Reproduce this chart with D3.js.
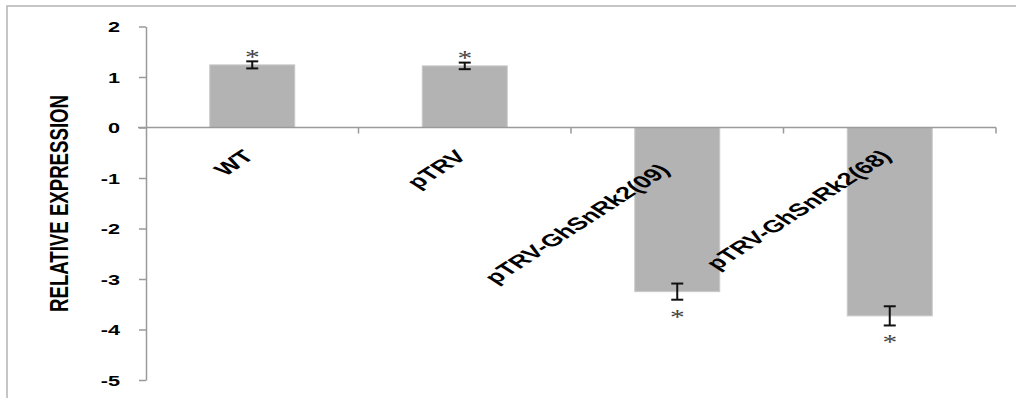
<!DOCTYPE html>
<html>
<head>
<meta charset="utf-8">
<script src="https://cdn.jsdelivr.net/npm/d3@7"></script>
<style>
  html, body { margin: 0; padding: 0; background: #fff; }
  svg { display: block; }
  text { font-family: "Liberation Sans", Arial, sans-serif; }
</style>
</head>
<body>
<div id="chart"></div>
<script>
// values
var categories = ["WT", "pTRV", "pTRV-GhSnRk2(09)", "pTRV-GhSnRk2(68)"];
var expression = [1.24, 1.22, -3.25, -3.73];
var errors = [0.07, 0.065, 0.16, 0.19];
var yTicks = [2, 1, 0, -1, -2, -3, -4, -5];
var yTitle = "RELATIVE EXPRESSION";

var width = 1016,
    height = 398,
    stretch = 1.55; // the source picture is wider than it is tall

var svg = d3.select("#chart").append("svg")
    .attr("width", width)
    .attr("height", height);

// outer frame (only top and left edges are in view)
svg.append("path")
    .attr("d", "M7,398V6H1016")
    .attr("fill", "none")
    .attr("stroke", "#b4b4b4")
    .attr("stroke-width", 1.5);

var x = d3.scaleBand()
    .domain(categories)
    .range([146, 996])
    .paddingInner(0.6)
    .paddingOuter(0.3);

var y = d3.scaleLinear()
    .domain([d3.min(yTicks), d3.max(yTicks)])
    .range([380, 26.5]);

var data = categories.map(function(c, i){
    return { name: c, value: expression[i], err: errors[i] };
});

// bars
svg.selectAll(".bar")
    .data(data)
    .enter().append("rect")
    .attr("class", "bar")
    .attr("x", function(d){ return x(d.name) })
    .attr("y", function(d){ return y(Math.max(0, d.value)) })
    .attr("width", x.bandwidth())
    .attr("height", function(d){ return Math.abs(y(d.value) - y(0)) })
    .attr("fill", "#b3b3b3")
    .attr("stroke", "#c9c9c9")
    .attr("stroke-width", 1);

// y axis
var yAxis = svg.append("g")
    .attr("transform", "translate(" + x.range()[0] + ",0)")
    .call(d3.axisLeft(y).tickValues(yTicks).tickSize(7).tickSizeOuter(0)
        .tickFormat(function(d){ return String(d) }));
yAxis.select(".domain").attr("stroke", "#9a9a9a").attr("stroke-width", 1.5);
yAxis.selectAll(".tick line").attr("stroke", "#9a9a9a").attr("stroke-width", 1.5);
yAxis.selectAll(".tick text")
    .attr("x", 0)
    .attr("dy", "0.36em")
    .attr("transform", "translate(-26,0) scale(" + stretch + ",1)")
    .attr("fill", "#000")
    .style("font-size", "14px")
    .style("font-weight", "bold")
    .style("font-family", "'Liberation Sans', Arial, sans-serif");

// x axis along zero, ticks between categories
var step = x.step(),
    x0 = x(categories[0]) - x.paddingOuter() * step;
svg.append("line")
    .attr("x1", x.range()[0] - 8).attr("x2", x.range()[1])
    .attr("y1", y(0)).attr("y2", y(0))
    .attr("stroke", "#9a9a9a").attr("stroke-width", 1.5);
svg.selectAll(".xtick")
    .data(categories)
    .enter().append("line")
    .attr("class", "xtick")
    .attr("x1", function(d, i){ return x0 + (i + 1) * step })
    .attr("x2", function(d, i){ return x0 + (i + 1) * step })
    .attr("y1", y(0)).attr("y2", y(0) + 6)
    .attr("stroke", "#9a9a9a").attr("stroke-width", 1.5);

// category labels, rotated
var nudge = { "pTRV-GhSnRk2(09)": [-9, 14] };
svg.selectAll(".xlabel")
    .data(categories)
    .enter().append("text")
    .attr("class", "xlabel")
    .attr("transform", function(d){
        var n = nudge[d] || [0, 0];
        var ax = x(d) + x.bandwidth() / 2 + 3 + n[0],
            ay = y(0) + 30 + n[1];
        return "translate(" + ax + "," + ay + ") scale(" + stretch + ",1) rotate(-45)";
    })
    .attr("text-anchor", "end")
    .style("font-size", "17.5px")
    .style("font-weight", "bold")
    .attr("fill", "#000")
    .text(function(d){ return d });

// error bars
var cap = 6;
var eb = svg.selectAll(".err")
    .data(data)
    .enter().append("g")
    .attr("class", "err")
    .attr("stroke", "#111")
    .attr("stroke-width", 2);
eb.append("line")
    .attr("x1", function(d){ return x(d.name) + x.bandwidth() / 2 })
    .attr("x2", function(d){ return x(d.name) + x.bandwidth() / 2 })
    .attr("y1", function(d){ return y(d.value + d.err) })
    .attr("y2", function(d){ return y(d.value - d.err) });
eb.append("line")
    .attr("x1", function(d){ return x(d.name) + x.bandwidth() / 2 - cap })
    .attr("x2", function(d){ return x(d.name) + x.bandwidth() / 2 + cap })
    .attr("y1", function(d){ return y(d.value + d.err) })
    .attr("y2", function(d){ return y(d.value + d.err) });
eb.append("line")
    .attr("x1", function(d){ return x(d.name) + x.bandwidth() / 2 - cap })
    .attr("x2", function(d){ return x(d.name) + x.bandwidth() / 2 + cap })
    .attr("y1", function(d){ return y(d.value - d.err) })
    .attr("y2", function(d){ return y(d.value - d.err) });

// significance stars
svg.selectAll(".star")
    .data(data)
    .enter().append("text")
    .attr("class", "star")
    .attr("transform", function(d){
        var cy = d.value > 0 ? y(d.value + d.err) - 6.5 : y(d.value - d.err) + 15;
        return "translate(" + (x(d.name) + x.bandwidth() / 2) + "," + (cy + 9) + ") scale(1.4,1)";
    })
    .attr("text-anchor", "middle")
    .style("font-family", "'Liberation Serif', 'Times New Roman', serif")
    .style("font-size", "21px")
    .attr("fill", "#444")
    .text("*");

// y title
svg.append("text")
    .attr("transform", "translate(59.5,203.5) scale(" + stretch + ",1) rotate(-90)")
    .attr("text-anchor", "middle")
    .attr("dominant-baseline", "central")
    .attr("textLength", 217)
    .attr("lengthAdjust", "spacingAndGlyphs")
    .style("font-size", "17px")
    .style("font-weight", "bold")
    .attr("fill", "#000")
    .text(yTitle);
</script>
</body>
</html>
